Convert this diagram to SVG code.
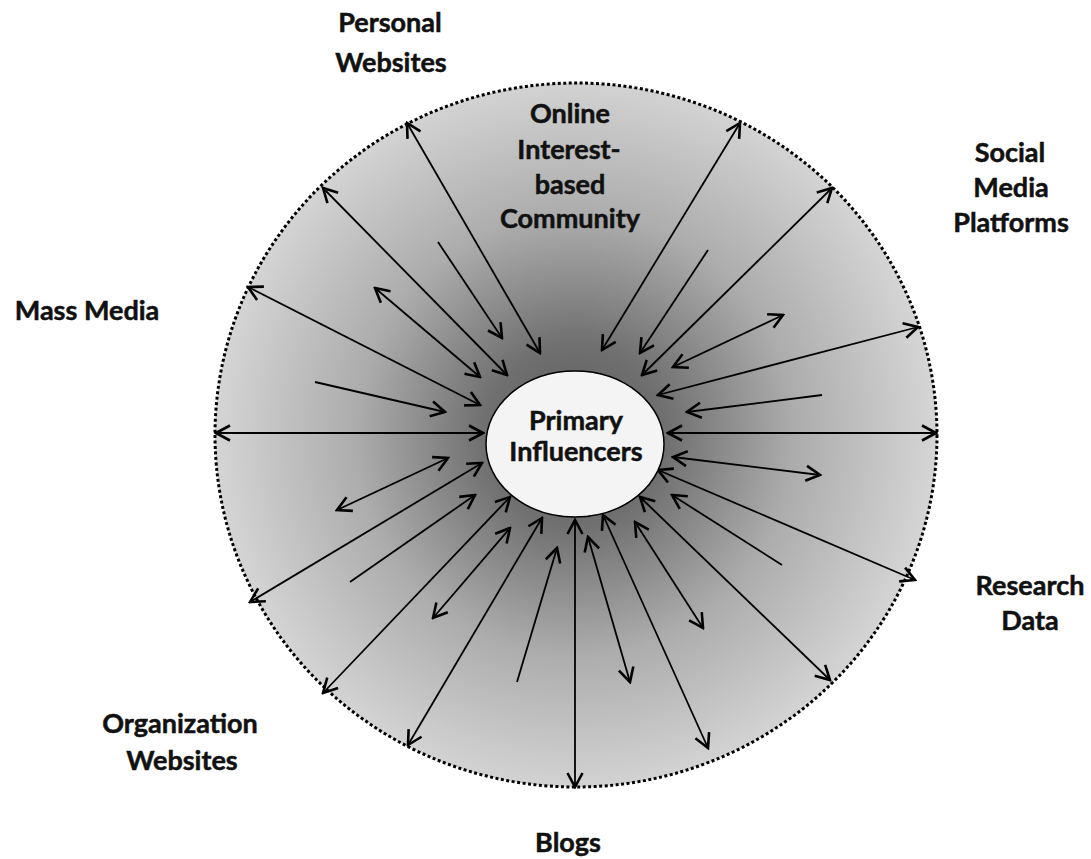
<svg xmlns="http://www.w3.org/2000/svg" width="1091" height="859" viewBox="0 0 1091 859">
<style>
.lbl{font-family:Lato,"Open Sans","Liberation Sans",sans-serif;font-weight:700;font-size:27px;fill:#111;stroke:#111;stroke-width:0.5;text-anchor:middle}
.c{stroke:#000;stroke-width:1.8;fill:none;marker-end:url(#ah)}
.d{marker-start:url(#ah)}
</style>
<defs>
<radialGradient id="bg" cx="575" cy="435" r="365" gradientUnits="userSpaceOnUse">
<stop offset="0" stop-color="#5a5a5a"/>
<stop offset="0.25" stop-color="#707070"/>
<stop offset="0.6" stop-color="#acacac"/>
<stop offset="1" stop-color="#d6d6d6"/>
</radialGradient>
<marker id="ah" viewBox="0 0 18 18" markerUnits="userSpaceOnUse" markerWidth="18" markerHeight="18" refX="16" refY="9" orient="auto-start-reverse">
<path d="M2,1.5 L16,9 L2,16.5" fill="none" stroke="#000" stroke-width="2.6"/>
</marker>
</defs>
<rect width="1091" height="859" fill="#fff"/>
<g id="outer">
<ellipse cx="576" cy="435" rx="361" ry="352" fill="url(#bg)" stroke="#000" stroke-width="3" stroke-dasharray="3 2.5"/>
</g>
<g id="connectors">
<line class="c d" x1="407" y1="123" x2="540" y2="353"/>
<line class="c d" x1="323" y1="188" x2="507" y2="375"/>
<line class="c" x1="438" y1="242" x2="502" y2="338"/>
<line class="c d" x1="375" y1="288" x2="480" y2="377"/>
<line class="c d" x1="248" y1="287" x2="480" y2="405"/>
<line class="c" x1="315" y1="382" x2="445" y2="412"/>
<line class="c d" x1="216" y1="433" x2="483" y2="433"/>
<line class="c d" x1="740" y1="123" x2="602" y2="350"/>
<line class="c" x1="708" y1="250" x2="640" y2="353"/>
<line class="c d" x1="832" y1="188" x2="642" y2="375"/>
<line class="c d" x1="783" y1="315" x2="673" y2="367"/>
<line class="c d" x1="918" y1="327" x2="658" y2="395"/>
<line class="c" x1="822" y1="395" x2="687" y2="412"/>
<line class="c d" x1="936" y1="433" x2="668" y2="433"/>
<line class="c d" x1="820" y1="475" x2="673" y2="457"/>
<line class="c d" x1="915" y1="580" x2="658" y2="470"/>
<line class="c" x1="782" y1="565" x2="672" y2="495"/>
<line class="c d" x1="830" y1="680" x2="640" y2="497"/>
<line class="c d" x1="703" y1="628" x2="635" y2="522"/>
<line class="c d" x1="708" y1="748" x2="603" y2="515"/>
<line class="c d" x1="630" y1="682" x2="588" y2="537"/>
<line class="c d" x1="575" y1="787" x2="575" y2="520"/>
<line class="c d" x1="337" y1="510" x2="448" y2="458"/>
<line class="c d" x1="250" y1="602" x2="482" y2="463"/>
<line class="c" x1="350" y1="582" x2="475" y2="495"/>
<line class="c d" x1="323" y1="693" x2="510" y2="497"/>
<line class="c d" x1="433" y1="618" x2="510" y2="528"/>
<line class="c d" x1="408" y1="745" x2="542" y2="518"/>
<line class="c" x1="517" y1="682" x2="557" y2="548"/>
</g>
<g id="primary">
<ellipse cx="575" cy="444" rx="89" ry="73" fill="#f4f4f4" stroke="#000" stroke-width="1.5"/>
<text class="lbl" x="576" y="430">Primary</text>
<text class="lbl" x="576" y="461">Influencers</text>
</g>
<g id="online-community">
<text class="lbl" x="570" y="123">Online</text>
<text class="lbl" x="569" y="159">Interest-</text>
<text class="lbl" x="570" y="194">based</text>
<text class="lbl" x="570" y="228">Community</text>
</g>
<g id="personal-websites">
<text class="lbl" x="390" y="32">Personal</text>
<text class="lbl" x="391" y="72">Websites</text>
</g>
<g id="social-media">
<text class="lbl" x="1010" y="162">Social</text>
<text class="lbl" x="1011" y="197">Media</text>
<text class="lbl" x="1011" y="232">Platforms</text>
</g>
<g id="mass-media">
<text class="lbl" x="87" y="320">Mass Media</text>
</g>
<g id="research-data">
<text class="lbl" x="1030" y="595">Research</text>
<text class="lbl" x="1030" y="630">Data</text>
</g>
<g id="organization-websites">
<text class="lbl" x="180" y="733">Organization</text>
<text class="lbl" x="182" y="770">Websites</text>
</g>
<g id="blogs">
<text class="lbl" x="568" y="852">Blogs</text>
</g>
</svg>
